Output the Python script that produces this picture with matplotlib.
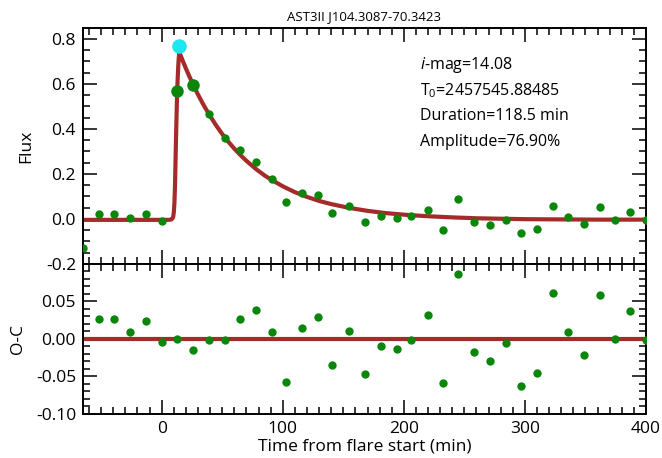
import numpy as np
import matplotlib
matplotlib.use('Agg')
import matplotlib.pyplot as plt
from matplotlib.ticker import MultipleLocator, FormatStrFormatter

plt.rcParams['font.family'] = ['Open Sans', 'DejaVu Sans']
plt.rcParams['axes.unicode_minus'] = False
plt.rcParams['mathtext.fontset'] = 'custom'
plt.rcParams['mathtext.rm'] = 'Open Sans'
plt.rcParams['mathtext.it'] = 'Open Sans:italic'

# Light curve points (minutes from flare start, relative flux)
time = [-65, -52, -39, -26, -13, 0, 39, 52, 65, 78, 91, 103, 116, 129, 141, 155,
        168, 181, 194, 206, 220, 232, 245, 258, 271, 284, 297, 310, 323, 336,
        349, 362, 374, 387, 400]
flux = [-0.129, 0.024, 0.024, 0.006, 0.021, -0.007, 0.468, 0.360, 0.305, 0.254,
        0.177, 0.074, 0.116, 0.107, 0.028, 0.059, -0.012, 0.013, 0.006, 0.013,
        0.041, -0.050, 0.090, -0.013, -0.028, -0.006, -0.062, -0.046, 0.059,
        0.009, -0.024, 0.053, -0.003, 0.032, -0.004]

# flare points (drawn larger) and the peak point
flare_time = [12.7, 25.6]
flare_flux = [0.566, 0.593]
peak_time = [14.6]
peak_flux = [0.769]

# fitted flare model
model_time = [-65, 0, 6, 8, 9, 9.5, 10, 10.5, 11, 11.5, 12, 12.5, 13, 13.5, 14,
              14.6, 16, 18, 20, 23, 26, 30, 35, 40, 45, 50, 55, 60, 65, 70, 78,
              85, 90, 100, 110, 120, 130, 140, 155, 170, 185, 200, 220, 240,
              260, 280, 300, 330, 360, 400]
model_flux = [-0.004, -0.004, -0.004, -0.002, 0.003, 0.010, 0.030, 0.070, 0.150,
              0.280, 0.400, 0.510, 0.600, 0.660, 0.710, 0.740, 0.721, 0.694,
              0.668, 0.631, 0.596, 0.552, 0.502, 0.457, 0.415, 0.377, 0.343,
              0.312, 0.284, 0.258, 0.221, 0.193, 0.176, 0.145, 0.119, 0.098,
              0.080, 0.066, 0.049, 0.036, 0.026, 0.019, 0.012, 0.007, 0.003,
              0.001, -0.001, -0.002, -0.003, -0.003]

# residuals O-C
res_time = [-65, -52, -39, -26, -13, 0, 13, 26, 39, 52, 65, 78, 91, 103, 116, 129,
            141, 155, 168, 181, 194, 206, 220, 232, 245, 258, 271, 284, 297, 310,
            323, 336, 349, 362, 374, 387, 400]
residual = [-0.125, 0.026, 0.027, 0.009, 0.024, -0.004, 0.000, -0.015, -0.002,
            -0.002, 0.026, 0.038, 0.009, -0.058, 0.015, 0.029, -0.035, 0.010,
            -0.047, -0.010, -0.013, -0.001, 0.032, -0.059, 0.087, -0.017,
            -0.030, -0.006, -0.063, -0.045, 0.061, 0.009, -0.021, 0.058, 0.000,
            0.037, -0.001]

red = '#a52a2a'
green = '#0a860a'

fig = plt.figure(figsize=(6.62, 4.58), dpi=100, facecolor='white')
ax1 = fig.add_axes([0.1254, 0.4236, 0.8504, 0.5153])
ax2 = fig.add_axes([0.1254, 0.0961, 0.8504, 0.3275], sharex=ax1)

ax1.plot(model_time, model_flux, color=red, lw=3, zorder=2)
ax1.plot(time, flux, 'o', color=green, ms=6, mec='none', zorder=3)
ax1.plot(flare_time, flare_flux, 'o', color=green, ms=9, mec='none', zorder=3)
ax1.plot(peak_time, peak_flux, 'o', color='#1de8f0', ms=10.5, mec='none', zorder=4)

ax2.plot([-65, 400], [0, 0], color=red, lw=3, zorder=2)
ax2.plot(res_time, residual, 'o', color=green, ms=6, mec='none', zorder=3)

ax1.set_xlim(-65, 400)
ax1.set_ylim(-0.2, 0.848)
ax2.set_ylim(-0.1, 0.1)

for ax in (ax1, ax2):
    ax.xaxis.set_major_locator(MultipleLocator(100))
    ax.xaxis.set_minor_locator(MultipleLocator(10))
    ax.tick_params(which='both', direction='in', top=True, right=True,
                   width=1.1, labelsize=12.5, color='black', pad=5)
    ax.tick_params(which='major', length=10)
    ax.tick_params(which='minor', length=5)
    for spine in ax.spines.values():
        spine.set_linewidth(1.4)

ax1.yaxis.set_major_locator(MultipleLocator(0.2))
ax1.yaxis.set_minor_locator(MultipleLocator(0.05))
ax1.yaxis.set_major_formatter(FormatStrFormatter('%.1f'))
ax1.tick_params(labelbottom=False)

ax2.set_yticks([-0.1, -0.05, 0, 0.05])
ax2.yaxis.set_minor_locator(MultipleLocator(0.01))
ax2.yaxis.set_major_formatter(FormatStrFormatter('%.2f'))

ax1.set_ylabel('Flux', fontsize=12.5, labelpad=8)
ax2.set_ylabel('O-C', fontsize=12.5, labelpad=7)
ax2.set_xlabel('Time from flare start (min)', fontsize=12.5, labelpad=1)
ax1.set_title('AST3II J104.3087-70.3423', fontsize=9.5, pad=6)

info = ['$i$-mag=14.08', 'T$_0$=2457545.88485', 'Duration=118.5 min',
        'Amplitude=76.90%']
for k, line in enumerate(info):
    ax1.text(0.598, 0.845 - k * 0.109, line, transform=ax1.transAxes,
             fontsize=11.5, ha='left', va='center')

fig.savefig('out.png', dpi=100, facecolor='white')
plt.close(fig)
